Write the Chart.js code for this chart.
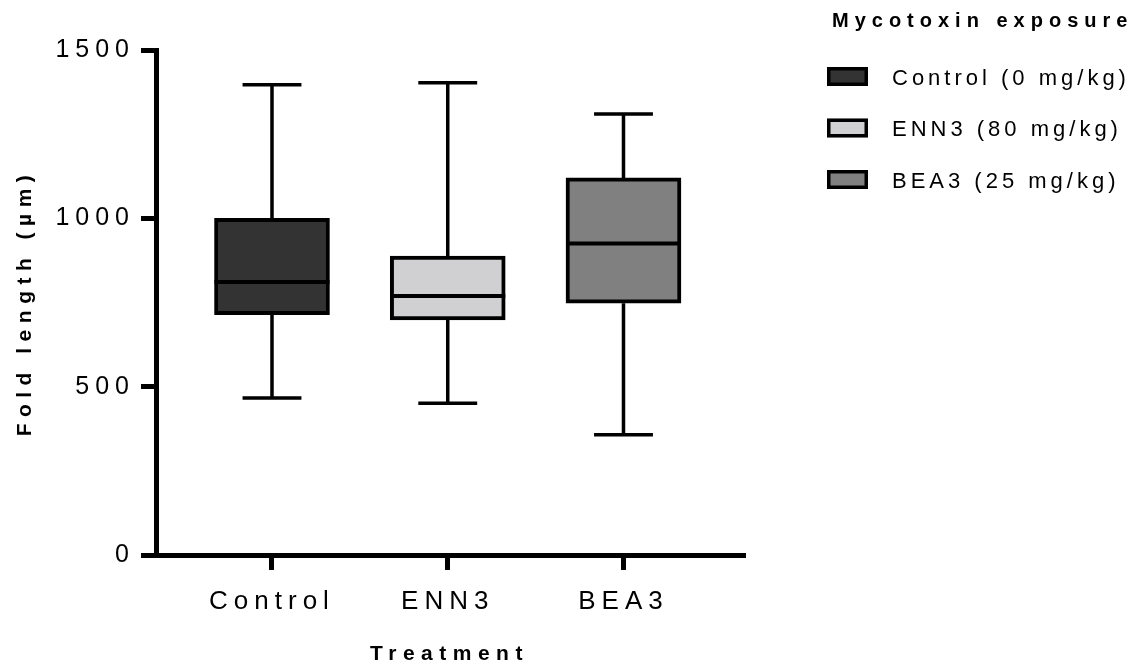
<!DOCTYPE html>
<html><head><meta charset="utf-8">
<script src="https://cdn.jsdelivr.net/npm/chart.js@4/dist/chart.umd.min.js"></script>
<style>html,body{margin:0;padding:0;background:#fff;overflow:hidden}</style>
</head><body>
<canvas id="c" width="1138" height="668"></canvas>
<script>
const categories = ['Control', 'ENN3', 'BEA3'];
const legendLabels = ['Control (0 mg/kg)', 'ENN3 (80 mg/kg)', 'BEA3 (25 mg/kg)'];
const xPositions = [1, 2, 3];
const whiskerMin = [466, 451, 357];
const q1Values = [714, 698, 748];
const medianValues = [811, 769, 925];
const q3Values = [1000, 888, 1120];
const whiskerMax = [1397, 1403, 1310];
const yTicks = [0, 500, 1000, 1500];
const fillColors = ['#333333', '#d0d0d2', '#808080'];
const legendTitle = 'Mycotoxin exposure';
const xTitle = 'Treatment';
const yTitle = 'Fold length (µm)';

const FAMILY = '"Liberation Sans", Arial, Helvetica, sans-serif';

const spacingPlugin = {
  id: 'spacing',
  beforeLayout(chart) { chart.ctx.letterSpacing = '6px'; },
  afterLayout(chart) {
    Object.values(chart.scales).forEach(s => {
      if (s._titleWrapped) return;
      const orig = s.drawTitle.bind(s);
      s.drawTitle = function () {
        const ctx = this.ctx;
        const prev = ctx.letterSpacing;
        ctx.letterSpacing = '6.5px';
        orig();
        ctx.letterSpacing = prev;
      };
      s._titleWrapped = true;
    });
  },
  beforeDraw(chart) { chart.ctx.letterSpacing = '6px'; }
};

const boxPlugin = {
  id: 'boxWhiskers',
  afterDatasetsDraw(chart) {
    const ctx = chart.ctx, xs = chart.scales.x, ys = chart.scales.y;
    const meta = chart.getDatasetMeta(0);
    ctx.save();
    ctx.strokeStyle = '#000';
    ctx.lineCap = 'butt';
    meta.data.forEach((bar, i) => {
      const x = xs.getPixelForValue(xPositions[i]);
      const half = bar.width / 2;
      const capHalf = bar.width * 0.256;
      const yMax = ys.getPixelForValue(whiskerMax[i]);
      const yMin = ys.getPixelForValue(whiskerMin[i]);
      ctx.lineWidth = 3.5;
      ctx.beginPath();
      ctx.moveTo(x, ys.getPixelForValue(q3Values[i])); ctx.lineTo(x, yMax);
      ctx.moveTo(x, ys.getPixelForValue(q1Values[i])); ctx.lineTo(x, yMin);
      ctx.moveTo(x - capHalf, yMax); ctx.lineTo(x + capHalf, yMax);
      ctx.moveTo(x - capHalf, yMin); ctx.lineTo(x + capHalf, yMin);
      ctx.stroke();
      const yMed = ys.getPixelForValue(medianValues[i]);
      ctx.lineWidth = 4;
      ctx.beginPath();
      ctx.moveTo(x - half, yMed); ctx.lineTo(x + half, yMed);
      ctx.stroke();
    });
    ctx.restore();
  }
};

const legendPlugin = {
  id: 'sideLegend',
  afterDraw(chart) {
    const ctx = chart.ctx;
    const left = chart.chartArea.right + 84;
    ctx.save();
    ctx.textBaseline = 'middle';
    ctx.textAlign = 'left';
    ctx.fillStyle = '#000';
    ctx.letterSpacing = '6px';
    ctx.font = 'bold 20px ' + FAMILY;
    ctx.fillText(legendTitle, left + 5, 21);
    ctx.letterSpacing = '4px';
    ctx.font = '22px ' + FAMILY;
    legendLabels.forEach((lab, i) => {
      const cy = 76.5 + i * 51.5;
      ctx.fillStyle = fillColors[i];
      ctx.fillRect(left, cy - 9.5, 41, 19);
      ctx.lineWidth = 3.5;
      ctx.strokeStyle = '#000';
      ctx.strokeRect(left + 1.75, cy - 9.5 + 1.75, 41 - 3.5, 19 - 3.5);
      ctx.fillStyle = '#000';
      ctx.fillText(lab, left + 65, cy + 2);
    });
    ctx.restore();
  }
};

const axisGrid = { display: true, offset: false, drawOnChartArea: false, drawTicks: true, tickLength: 15, tickWidth: 5, tickColor: '#000', color: '#000', lineWidth: 5 };
const axisBorder = { display: true, color: '#000', width: 5 };

new Chart(document.getElementById('c'), {
  type: 'bar',
  data: {
    datasets: [{
      label: 'Fold length',
      data: xPositions.map((x, i) => ({ x: x, y: [q1Values[i], q3Values[i]] })),
      backgroundColor: fillColors,
      borderColor: '#000',
      borderWidth: 4,
      borderSkipped: false,
      barThickness: 115
    }]
  },
  options: {
    responsive: false,
    animation: false,
    layout: { padding: { top: 50, right: 395, bottom: 0, left: 0 } },
    plugins: { legend: { display: false }, tooltip: { enabled: false } },
    scales: {
      x: {
        type: 'linear', min: 0.34, max: 3.68, offset: false,
        afterBuildTicks: s => { s.ticks = xPositions.map(v => ({ value: v })); },
        afterFit: s => { s.height = 113; },
        ticks: { callback: v => { const k = xPositions.indexOf(v); return k >= 0 ? categories[k] : ''; }, font: { size: 26, family: FAMILY }, color: '#000', padding: 16, maxRotation: 0, autoSkip: false },
        grid: axisGrid,
        border: axisBorder,
        title: { display: true, text: xTitle, font: { size: 21, weight: 'bold', family: FAMILY }, color: '#000', padding: { top: 0, bottom: 1 } }
      },
      y: {
        min: 0, max: 1500,
        afterBuildTicks: s => { s.ticks = yTicks.map(v => ({ value: v })); },
        afterFit: s => { s.width = 156; },
        ticks: { callback: v => String(v), font: { size: 25, family: FAMILY }, color: '#000', padding: 6 },
        grid: axisGrid,
        border: axisBorder,
        title: { display: true, text: yTitle, font: { size: 21, weight: 'bold', family: FAMILY }, color: '#000', padding: { top: 13, bottom: 0 } }
      }
    }
  },
  plugins: [spacingPlugin, boxPlugin, legendPlugin]
});
</script>
</body></html>
